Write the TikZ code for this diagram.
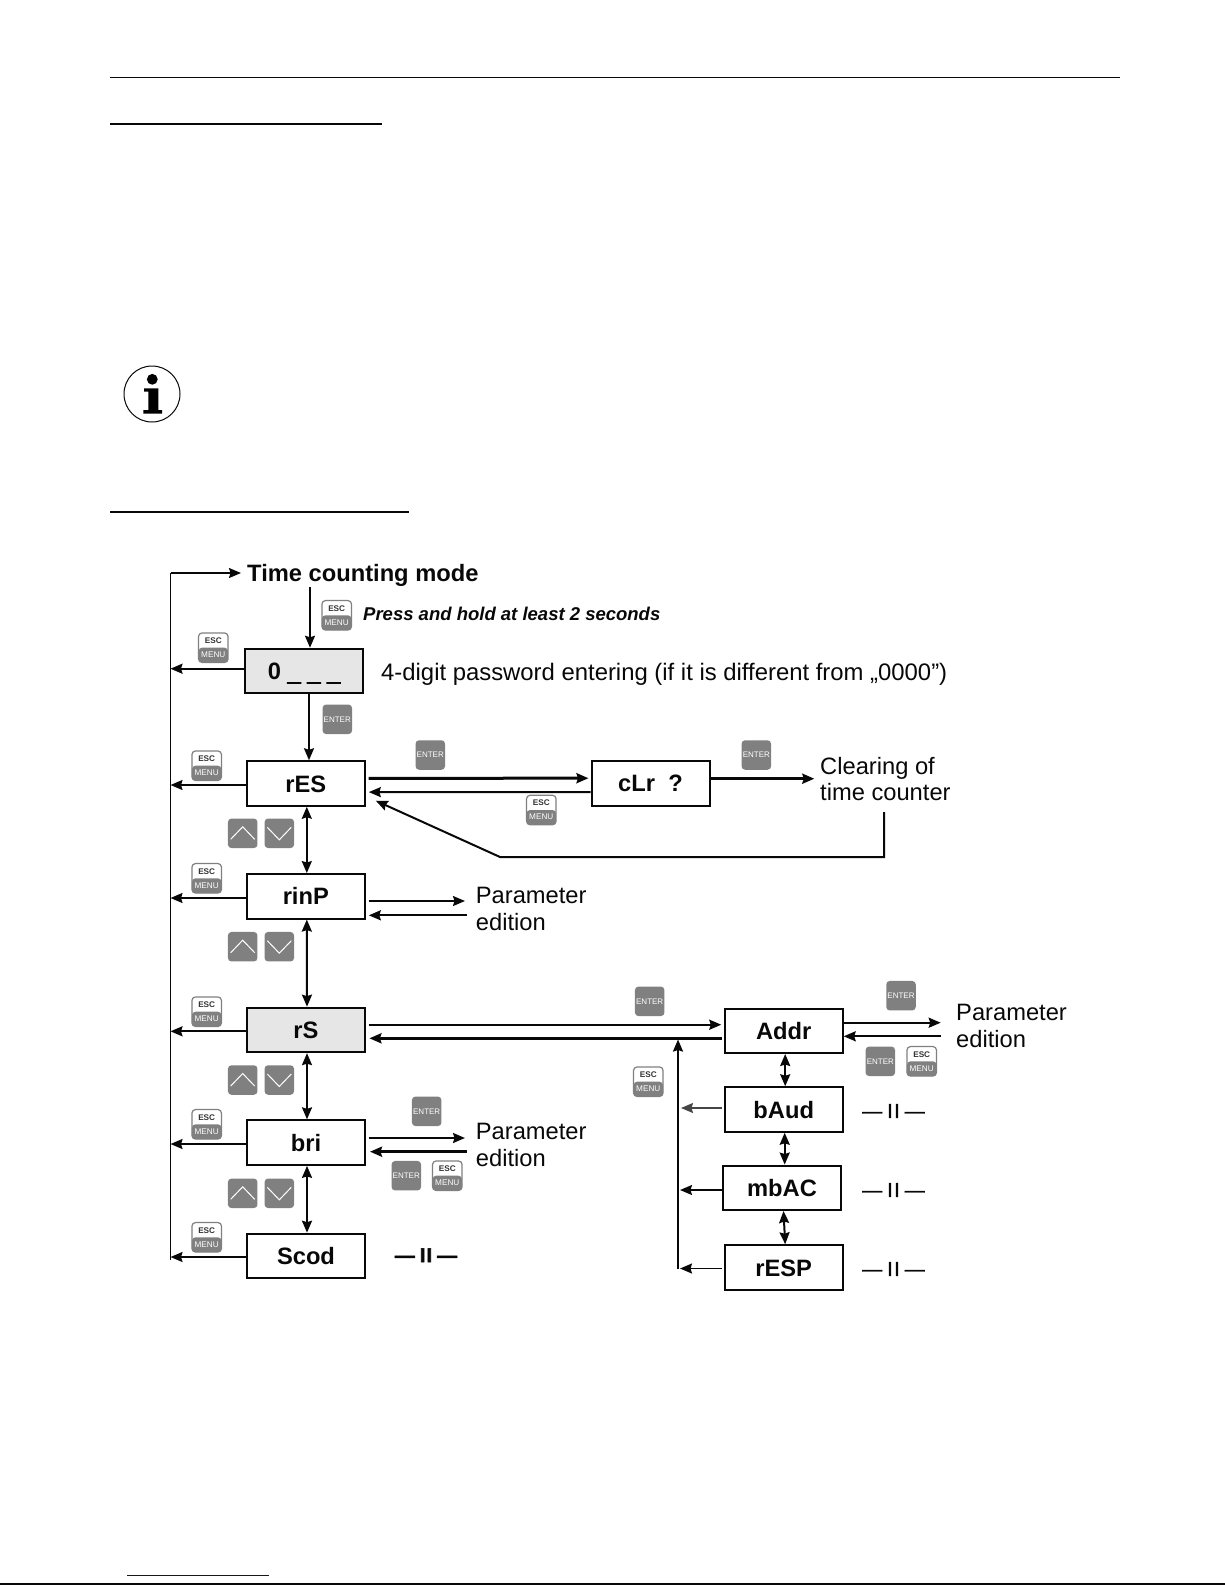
\documentclass[tikz,border=0pt]{standalone}
\usepackage{fontspec}
\setmainfont{Liberation Sans}
\newfontface\fatface[FakeBold=3]{Liberation Sans Bold}
\newfontface\dashface[FakeBold=1.5]{Liberation Sans}
\usetikzlibrary{arrows.meta}
\definecolor{keygray}{RGB}{128,128,128}
\definecolor{boxgray}{RGB}{230,230,230}
\definecolor{ink}{RGB}{8,8,8}
\tikzset{
  >={Stealth[length=12pt,width=10pt,inset=1.5pt]},
  boxn/.style={draw=ink,line width=2pt,inner sep=0pt,minimum width=118pt,minimum height=44.5pt,
     text height=17pt,text depth=0pt,font=\fontsize{23.7}{26}\selectfont\bfseries,text=ink},
  graybox/.style={boxn,fill=boxgray},
  lab/.style={inner sep=0pt,anchor=west,align=left,text=ink,font=\fontsize{23.7}{26.5}\selectfont},
  ln/.style={draw=ink,line width=#1},
  ln/.default=2pt,
  keyrect/.style={rounded corners=3.5pt,inner sep=0pt,minimum width=29.5pt,minimum height=29.5pt},
  keytxt/.style={inner sep=0pt,font=\fontsize{8.2}{9}\selectfont},
  sameas/.style={inner sep=0pt,text=ink,font=\fontsize{20}{21}\selectfont\dashface},
}
\newcommand{\esckey}[3]{%
  \node[keyrect,draw=keygray,line width=1.2pt,fill=white,
    path picture={\fill[keygray] (path picture bounding box.west) rectangle (path picture bounding box.south east);}]
    (#1) at (#2,#3) {};
  \node[keytxt,text=black!80,font=\fontsize{8.2}{9}\selectfont\bfseries] (#1e) at ([yshift=7pt]#1.center) {ESC};
  \node[keytxt,text=white] (#1m) at ([yshift=-7pt]#1.center) {MENU};
}
\newcommand{\enterkey}[3]{%
  \node[keyrect,fill=keygray,text=white,font=\fontsize{8}{9}\selectfont] (#1) at (#2,#3) {ENTER};
}
\newcommand{\updown}[3]{%
  \node[keyrect,fill=keygray] (#1u) at (#2,#3) {};
  \node[keyrect,fill=keygray] (#1d) at (#2+36.6,#3) {};
  \draw[white,line width=1pt] (#2-12,#3+6) -- (#2,#3-6.5) -- (#2+12,#3+6);
  \draw[white,line width=1pt] (#2+24.6,#3-6) -- (#2+36.6,#3+6.5) -- (#2+48.6,#3-6);
}
\begin{document}
\begin{tikzpicture}[x=1pt,y=-1pt]
\useasboundingbox (0,0) rectangle (1225,1585);
% page rules
\draw[ink,line width=1.4pt] (110,77.3) -- (1120,77.3);
\draw[ink,line width=2pt] (110,123.5) -- (382,123.5);
\draw[ink,line width=1.4pt] (110,512) -- (409,512);
\draw[blue!80!black,line width=1.4pt] (127,1575.3) -- (269,1575.3);
\draw[ink,line width=1.4pt] (0,1584) -- (1225,1584);
% info icon
\draw[ink,line width=1pt] (152,394) circle (28);
\fill[black] (152.3,379.3) circle (5.4);
\fill[black] (144,388.3) -- (158.3,388.3) -- (158.3,410) -- (162,410) -- (162,413.5) -- (143.3,413.5) -- (143.3,410) -- (148.3,410) -- (148.3,391.5) -- (144,391.5) -- cycle;
% boxes
\node[graybox,minimum width=118pt] (zero) at (304,671) {0 {\fatface\raisebox{-1pt}{\_}} {\fatface\raisebox{-1pt}{\_}} {\fatface\raisebox{-1pt}{\_}}};
\node[boxn] (res) at (305.8,783.5) {rES};
\node[boxn] (rinp) at (305.8,896.3) {rinP};
\node[graybox] (rs) at (306,1029.9) {rS};
\node[boxn] (bri) at (306,1142.6) {bri};
\node[boxn,minimum height=44pt] (scod) at (306,1255.7) {Scod};
\node[boxn] (clr) at (650.5,783.4) {cLr\ \ ?};
\node[boxn,minimum height=44pt] (addr) at (783.7,1031) {Addr};
\node[boxn] (baud) at (783.7,1109.5) {bAud};
\node[boxn] (mbac) at (782,1187.8) {mbAC};
\node[boxn] (resp) at (783.7,1267.5) {rESP};
% texts
\node[lab,font=\fontsize{23.7}{26}\selectfont\bfseries] (mode) at (247,575) {Time counting mode};
\node[lab,font=\fontsize{18.5}{20}\selectfont\bfseries\itshape] (press) at (363,614) {Press and hold at least 2 seconds};
\node[lab,font=\fontsize{23.87}{26}\selectfont] (pass) at (381,674) {4-digit password entering (if it is different from „0000”)};
\node[lab] (clear) at (820,779) {Clearing of\\time counter};
\node[lab] (p1) at (475.7,909) {Parameter\\edition};
\node[lab] (p2) at (475.7,1145) {Parameter\\edition};
\node[lab] (p3) at (956,1026) {Parameter\\edition};
\node[sameas] (s1) at (893.5,1111) {—\kern5pt I\kern1.5pt I\kern5pt —};
\node[sameas] (s2) at (893.5,1190) {—\kern5pt I\kern1.5pt I\kern5pt —};
\node[sameas] (s3) at (893.5,1269) {—\kern5pt I\kern1.5pt I\kern5pt —};
\node[sameas,font=\fontsize{20}{21}\selectfont\fatface] (s4) at (426,1255.3) {—\kern5pt I\kern1pt I\kern5pt —};
% free ends
\coordinate (bus) at (170.5,573);
\coordinate (busend) at (170.5,1260);
\coordinate (rbus) at (678,1039.5);
\coordinate (rbusend) at (678,1268.5);
\coordinate (retb) at (884,857);
\coordinate (reta) at (500,857);
\coordinate (rett) at (884,812);
\coordinate (modeout) at (310,587);
% main bus
\draw[ink,line width=1.4pt] (busend) -- (bus);
\draw[ink,line width=1.4pt,->,shorten >=6pt] (bus) -- (bus -| mode.west);
\draw[ln,->] (modeout) -- (modeout |- zero.north);
\draw[ln,->] ([xshift=5pt]zero.south) -- ([xshift=3.2pt]res.north);
% exits to bus
\draw[ln,->] ([yshift=2.3pt]zero.west) -- ([yshift=2.3pt]zero.west -| bus);
\draw[ln,->] ([yshift=-1.5pt]res.west) -- ([yshift=-1.5pt]res.west -| bus);
\draw[ln,->] ([yshift=-1.7pt]rinp.west) -- ([yshift=-1.7pt]rinp.west -| bus);
\draw[ln,->] ([yshift=-1.4pt]rs.west) -- ([yshift=-1.4pt]rs.west -| bus);
\draw[ln,->] ([yshift=-1.4pt]bri.west) -- ([yshift=-1.4pt]bri.west -| bus);
\draw[ln,->] ([yshift=-1.3pt]scod.west) -- ([yshift=-1.3pt]scod.west -| bus);
% up/down
\foreach \a/\b in {res/rinp,rinp/rs,rs/bri,bri/scod}
  \draw[ln,<->] ([xshift=1pt]\a.south) -- ([xshift=1pt]\b.north);
\foreach \a/\b in {addr/baud,mbac/resp}
  \draw[ln,<->] ([xshift=1.5pt]\a.south) -- ([xshift=1.5pt]\b.north);
\draw[ln,<->] ([xshift=1pt]baud.south) -- ([xshift=2.7pt]mbac.north);
% rES <-> cLr
\draw[ln=3pt,->,shorten <=2.7pt,shorten >=2pt] ([yshift=5.2pt]res.east) -- ([yshift=5.2pt]clr.west);
\draw[ln,->,shorten <=0pt,shorten >=3pt] ([yshift=-8.6pt]clr.west) -- ([yshift=-8.6pt]res.east);
\draw[ln=2.6pt,->,shorten >=5.7pt] ([yshift=4.7pt]clr.east) -- ([yshift=4.7pt]clr.east -| clear.west);
\draw[ln,->] (rett) -- (retb) -- (reta) -- ([xshift=10pt,yshift=-17.2pt]res.east);
% rinP
\draw[ln=1.5pt,->,shorten <=2.7pt,shorten >=10.7pt] ([yshift=-4.7pt]rinp.east) -- ([yshift=-4.7pt]rinp.east -| p1.west);
\draw[ln,->,shorten <=9pt,shorten >=3pt] ([yshift=-19pt]rinp.east -| p1.west) -- ([yshift=-19pt]rinp.east);
% rS <-> Addr
\draw[ln,->,shorten <=2.7pt,shorten >=2.4pt] ([yshift=5.2pt]rs.east) -- ([yshift=5.2pt]rs.east -| addr.west);
\draw[ln=2.6pt,->,shorten <=2pt,shorten >=3.4pt] ([yshift=-8.4pt]rs.east -| addr.west) -- ([yshift=-8.4pt]rs.east);
\draw[ln,->] (rbusend) -- (rbus);
% right column exits
\draw[draw=ink!75,line width=1.3pt,->,shorten <=1.5pt,shorten >=3pt] ([yshift=1.5pt]baud.west) -- ([yshift=1.5pt]baud.west -| rbus);
\draw[ln=1.6pt,->,shorten >=2pt] ([yshift=-2.2pt]mbac.west) -- ([yshift=-2.2pt]mbac.west -| rbus);
\draw[ln=1.8pt,->,shorten <=1.5pt,shorten >=2pt] ([yshift=-1pt]resp.west) -- ([yshift=-1pt]resp.west -| rbus);
% Addr -> parameter
\draw[ln,->,shorten >=15.3pt] ([yshift=8.3pt]addr.east) -- ([yshift=8.3pt]addr.east -| p3.west);
\draw[ln,->,shorten <=15pt] ([yshift=-5.3pt]addr.east -| p3.west) -- ([yshift=-5.3pt]addr.east);
% bri -> parameter
\draw[ln,->,shorten <=2.7pt,shorten >=10.7pt] ([yshift=4.6pt]bri.east) -- ([yshift=4.6pt]bri.east -| p2.west);
\draw[ln=3pt,->,shorten <=9pt,shorten >=4pt] ([yshift=-9.1pt]bri.east -| p2.west) -- ([yshift=-9.1pt]bri.east);
% keys
\esckey{ka}{336.7}{615.3}
\esckey{kb}{213.3}{647.7}
\esckey{kc}{206.7}{765.7}
\esckey{kd}{206.7}{878.3}
\esckey{ke}{206.7}{1011.7}
\esckey{kf}{206.7}{1124.3}
\esckey{kg}{206.7}{1237.3}
\esckey{kh}{541.3}{810}
\esckey{ki}{921.7}{1061.3}
\esckey{kj}{648.3}{1081.7}
\esckey{kk}{447.3}{1175.7}
\enterkey{ea}{337.3}{719.3}
\enterkey{eb}{430.3}{755}
\enterkey{ec}{756.3}{755}
\enterkey{ed}{649.7}{1001.3}
\enterkey{ee}{901}{995.7}
\enterkey{ef}{880.3}{1061.3}
\enterkey{eg}{426.7}{1111.3}
\enterkey{eh}{406.3}{1175.7}
\updown{ua}{242.7}{833.3}
\updown{ub}{242.7}{946.7}
\updown{uc}{242.7}{1080}
\updown{ud}{242.7}{1193.3}
\end{tikzpicture}
\end{document}
